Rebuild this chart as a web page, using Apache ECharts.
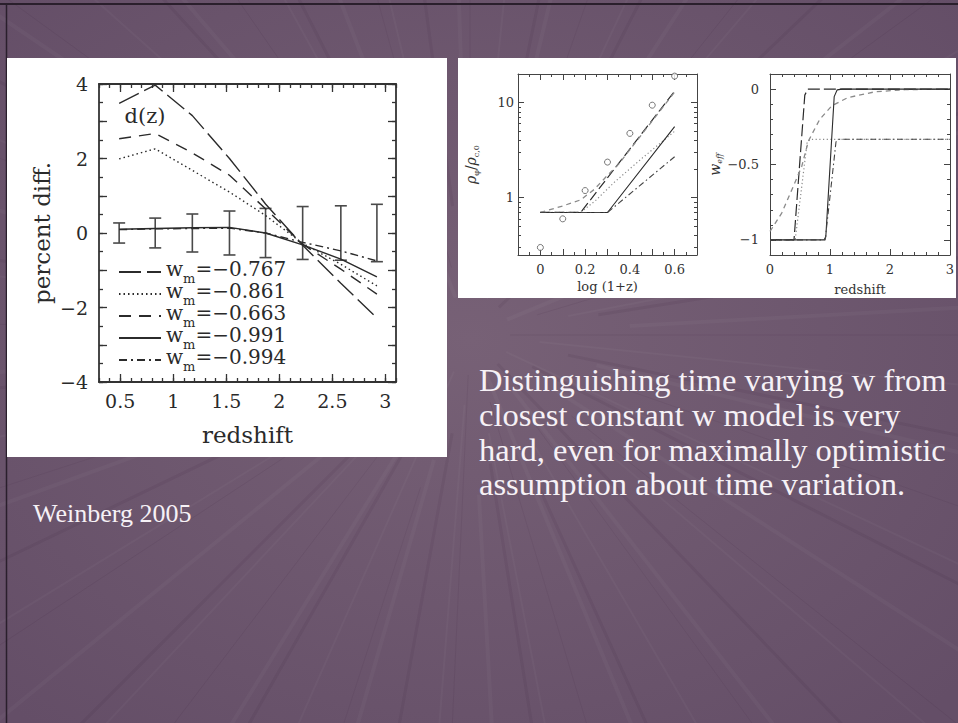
<!DOCTYPE html>
<html>
<head>
<meta charset="utf-8">
<title>Weinberg 2005 — time varying w</title>
<script src="https://cdn.jsdelivr.net/npm/echarts@6/dist/echarts.min.js"></script>
<style>
  html, body { margin: 0; padding: 0; background: #69536b; }
  #main { width: 958px; height: 723px; }
</style>
</head>
<body>
<div id="main"></div>
<script>
// ---------- Panel A: percent difference of d(z) against redshift ----------
const zBins   = [0.49, 0.83, 1.18, 1.53, 1.87, 2.22, 2.58, 2.92];
const errHalf = [0.27, 0.40, 0.51, 0.59, 0.66, 0.71, 0.73, 0.77];
const dzW767  = [3.48, 3.97, 3.15, 2.00, 0.78, -0.33, -1.35, -2.28];
const dzW861  = [1.99, 2.26, 1.68, 1.10, 0.47, -0.28, -0.84, -1.42];
const dzW663  = [2.53, 2.67, 2.15, 1.55, 0.65, -0.30, -0.97, -1.64];
const dzW991  = [0.10, 0.12, 0.14, 0.15, 0.00, -0.32, -0.70, -1.18];
const dzW994  = [0.09, 0.11, 0.12, 0.13, 0.00, -0.25, -0.48, -0.75];
const wmLabels = ['−0.767', '−0.861', '−0.663', '−0.991', '−0.994'];
const aXLabels = [0.5, 1, 1.5, 2, 2.5, 3];
const aYLabels = [-4, -2, 0, 2, 4];

// ---------- Panel B: rho_phi / rho_c,0 against log(1+z) ----------
const logZPts   = [0, 0.1, 0.2, 0.3, 0.4, 0.5, 0.6];
const rhoPts    = [0.30, 0.60, 1.19, 2.37, 4.75, 9.4, 19.0];
const bLongX    = [0, 0.18, 0.60];
const bLongY    = [0.70, 0.70, 13.2];
const bShortX   = [0, 0.10, 0.18, 0.24, 0.30, 0.35, 0.60];
const bShortY   = [0.70, 0.82, 0.95, 1.22, 1.72, 2.26, 12.9];
const bDotX     = [0, 0.18, 0.25, 0.33, 0.45, 0.60];
const bDotY     = [0.70, 0.70, 0.95, 1.45, 2.55, 5.0];
const bSolidX   = [0, 0.30, 0.60];
const bSolidY   = [0.70, 0.70, 5.6];
const bDashDotX = [0, 0.30, 0.60];
const bDashDotY = [0.70, 0.70, 2.7];
const bXLabels  = [0, 0.2, 0.4, 0.6];
const bYLabels  = [1, 10];

// ---------- Panel C: w_eff against redshift ----------
const cLongX    = [0, 0.40, 0.58, 0.63, 3];
const cLongY    = [-1, -1, -0.04, 0, 0];
const cShortX   = [0, 0.195, 0.39, 0.53, 0.64, 0.83, 1.03, 1.30, 1.75, 2.25, 3];
const cShortY   = [-0.944, -0.822, -0.644, -0.511, -0.344, -0.20, -0.111, -0.056, -0.018, -0.004, 0];
const cDotX     = [0, 0.42, 0.62, 0.68, 3];
const cDotY     = [-1, -1, -0.35, -0.333, -0.333];
const cSolidX   = [0, 0.90, 0.93, 1.07, 1.12, 1.20, 3];
const cSolidY   = [-1, -1, -0.98, -0.05, -0.005, 0, 0];
const cDashDotX = [0, 0.92, 1.10, 1.15, 3];
const cDashDotY = [-1, -1, -0.35, -0.333, -0.333];
const cXLabels  = [0, 1, 2, 3];
const cYLabels  = [-1, -0.5, 0];

// ---------- helpers ----------
const SERIF = 'DejaVu Serif';
const TIMES = '"Liberation Serif", "Times New Roman", Times, serif';
const pairs = (xs, ys) => xs.map((x, i) => [x, ys[i]]);
const steps = (a, b, d) => {
  const out = [];
  const n = Math.round((b - a) / d);
  for (let i = 0; i <= n; i++) out.push(+(a + i * d).toFixed(6));
  return out;
};
const minusFmt = v => String(v).replace('-', '−');

// Four-sided framed axes: a major-tick axis and a minor-tick axis on each side.
function boxAxes(gridIndex, dim, o) {
  const sides = dim === 'x' ? ['bottom', 'top'] : ['left', 'right'];
  const out = [];
  sides.forEach((side, k) => {
    const common = {
      gridIndex, type: o.type || 'value', position: side,
      min: o.min, max: o.max, splitLine: { show: false }, silent: true
    };
    if (o.type === 'log') common.logBase = 10;
    const main = Object.assign({}, common, {
      axisLine: { show: true, onZero: false, lineStyle: { color: o.frame, width: o.frameWidth } },
      axisTick: { show: true, inside: true, length: o.majorLen, customValues: o.majors,
                  lineStyle: { color: o.frame, width: o.tickWidth } },
      axisLabel: k === 0
        ? Object.assign({ show: true, customValues: o.labels, formatter: minusFmt }, o.labelStyle)
        : { show: false }
    });
    if (k === 0 && o.name) Object.assign(main, o.name);
    out.push(main);
    out.push(Object.assign({}, common, {
      axisLine: { show: false, onZero: false },
      axisTick: { show: true, inside: true, length: o.minorLen, customValues: o.minors,
                  lineStyle: { color: o.frame, width: o.tickWidth } },
      axisLabel: { show: false }
    }));
  });
  return out;
}

const lineSeries = (name, data, grid, color, width, dash, z) => ({
  type: 'line', name, data, xAxisIndex: grid * 4, yAxisIndex: grid * 4,
  symbol: 'none', showSymbol: false, silent: true, animation: false, z: z || 3,
  itemStyle: { color: 'rgba(0,0,0,0)', borderColor: 'rgba(0,0,0,0)' },
  lineStyle: { color, width, type: dash || 'solid' }
});

// ---------- axes ----------
const labA = { fontFamily: SERIF, fontSize: 19, color: '#2a2a2a' };
const labBC = { fontFamily: SERIF, fontSize: 13, color: '#333' };

const xAxes = [].concat(
  boxAxes(0, 'x', {
    min: 0.3, max: 3.1, majors: aXLabels, minors: steps(0.3, 3.1, 0.1), labels: aXLabels,
    frame: '#333', frameWidth: 1.8, tickWidth: 1.3, majorLen: 8, minorLen: 4,
    labelStyle: Object.assign({ margin: 9 }, labA),
    name: { name: 'redshift', nameLocation: 'middle', nameGap: 41,
            nameTextStyle: { fontFamily: SERIF, fontSize: 23, color: '#2a2a2a' } }
  }),
  boxAxes(1, 'x', {
    min: -0.1, max: 0.7, majors: steps(-0.1, 0.7, 0.1), minors: steps(-0.1, 0.7, 0.05), labels: bXLabels,
    frame: '#444', frameWidth: 1, tickWidth: 1, majorLen: 6, minorLen: 3,
    labelStyle: Object.assign({ margin: 8 }, labBC),
    name: { name: 'log (1+z)', nameLocation: 'middle', nameGap: 25,
            nameTextStyle: { fontFamily: SERIF, fontSize: 13, color: '#333' } }
  }),
  boxAxes(2, 'x', {
    min: 0, max: 3, majors: cXLabels, minors: steps(0, 3, 0.2), labels: cXLabels,
    frame: '#444', frameWidth: 1, tickWidth: 1, majorLen: 6, minorLen: 3,
    labelStyle: Object.assign({ margin: 8 }, labBC),
    name: { name: 'redshift', nameLocation: 'middle', nameGap: 28,
            nameTextStyle: { fontFamily: SERIF, fontSize: 13, color: '#333' } }
  })
);

const yAxes = [].concat(
  boxAxes(0, 'y', {
    min: -4, max: 4, majors: steps(-4, 4, 1), minors: steps(-4, 4, 0.5), labels: aYLabels,
    frame: '#333', frameWidth: 1.8, tickWidth: 1.3, majorLen: 8, minorLen: 4,
    labelStyle: Object.assign({ margin: 11 }, labA),
    name: { name: 'percent diff.', nameLocation: 'middle', nameGap: 46, nameRotate: 90,
            nameTextStyle: { fontFamily: SERIF, fontSize: 23, color: '#2a2a2a' } }
  }),
  boxAxes(1, 'y', {
    type: 'log', min: 0.25, max: 20, majors: bYLabels,
    minors: [0.3, 0.4, 0.5, 0.6, 0.7, 0.8, 0.9, 2, 3, 4, 5, 6, 7, 8, 9, 20], labels: bYLabels,
    frame: '#444', frameWidth: 1, tickWidth: 1, majorLen: 6, minorLen: 3,
    labelStyle: Object.assign({ margin: 4 }, labBC),
    name: { name: '{r|ρ}{s|φ}{d|/}{r|ρ}{s|c,0}', nameLocation: 'middle', nameGap: 38, nameRotate: 90,
            nameTextStyle: { fontFamily: SERIF, color: '#333', rich: {
              r: { fontFamily: SERIF, fontSize: 14, fontStyle: 'italic', color: '#333', lineHeight: 18, verticalAlign: 'middle' },
              s: { fontFamily: SERIF, fontSize: 8, color: '#333', lineHeight: 18, verticalAlign: 'bottom' },
              d: { fontFamily: SERIF, fontSize: 14, color: '#333', lineHeight: 18, verticalAlign: 'middle' } } } }
  }),
  boxAxes(2, 'y', {
    min: -1.1, max: 0.1, majors: cYLabels, minors: steps(-1.1, 0.1, 0.1), labels: cYLabels,
    frame: '#444', frameWidth: 1, tickWidth: 1, majorLen: 6, minorLen: 3,
    labelStyle: Object.assign({ margin: 11 }, labBC),
    name: { name: '{w|w}{s|eff}', nameLocation: 'middle', nameGap: 46, nameRotate: 90,
            nameTextStyle: { fontFamily: SERIF, color: '#333', rich: {
              w: { fontFamily: SERIF, fontSize: 14, fontStyle: 'italic', color: '#333', lineHeight: 18, verticalAlign: 'middle' },
              s: { fontFamily: SERIF, fontSize: 8, fontStyle: 'italic', color: '#333', lineHeight: 18, verticalAlign: 'bottom' } } } }
  })
);

// ---------- series ----------
const DARK = '#2b2b2b';
const GREY = '#8a8a8a';
const wmNames = wmLabels.slice();

const series = [
  {
    type: 'custom', name: 'errors', xAxisIndex: 0, yAxisIndex: 0, silent: true, z: 2,
    data: zBins.map((z, i) => [z, -errHalf[i], errHalf[i]]),
    renderItem: (params, api) => {
      const lo = api.coord([api.value(0), api.value(1)]);
      const hi = api.coord([api.value(0), api.value(2)]);
      const cap = 6;
      const st = { stroke: '#4a4a4a', lineWidth: 1.6 };
      return { type: 'group', children: [
        { type: 'line', shape: { x1: lo[0], y1: lo[1], x2: hi[0], y2: hi[1] }, style: st },
        { type: 'line', shape: { x1: lo[0] - cap, y1: lo[1], x2: lo[0] + cap, y2: lo[1] }, style: st },
        { type: 'line', shape: { x1: hi[0] - cap, y1: hi[1], x2: hi[0] + cap, y2: hi[1] }, style: st }
      ] };
    }
  },
  lineSeries(wmNames[0], pairs(zBins, dzW767), 0, DARK, 1.4, [22, 6]),
  lineSeries(wmNames[1], pairs(zBins, dzW861), 0, DARK, 1.4, [1.5, 3]),
  lineSeries(wmNames[2], pairs(zBins, dzW663), 0, DARK, 1.4, [12, 8]),
  lineSeries(wmNames[3], pairs(zBins, dzW991), 0, DARK, 1.4, 'solid'),
  lineSeries(wmNames[4], pairs(zBins, dzW994), 0, DARK, 1.4, [8, 4, 2, 4]),

  lineSeries('b-long', pairs(bLongX, bLongY), 1, DARK, 1.2, [10, 4]),
  lineSeries('b-short', pairs(bShortX, bShortY), 1, GREY, 1.3, [5, 4]),
  lineSeries('b-dot', pairs(bDotX, bDotY), 1, GREY, 1.2, [1.2, 2.5]),
  lineSeries('b-solid', pairs(bSolidX, bSolidY), 1, DARK, 1.1, 'solid'),
  lineSeries('b-dashdot', pairs(bDashDotX, bDashDotY), 1, '#444', 1.1, [6, 3, 1.5, 3]),
  {
    type: 'scatter', name: 'b-points', xAxisIndex: 4, yAxisIndex: 4, silent: true, z: 4,
    data: pairs(logZPts, rhoPts), symbol: 'circle', symbolSize: 6,
    itemStyle: { color: '#fff', borderColor: '#555', borderWidth: 1 }
  },

  lineSeries('c-long', pairs(cLongX, cLongY), 2, DARK, 1.2, [12, 4]),
  lineSeries('c-short', pairs(cShortX, cShortY), 2, GREY, 1.3, [5, 4]),
  lineSeries('c-dot', pairs(cDotX, cDotY), 2, GREY, 1.2, [1.2, 2.5]),
  lineSeries('c-solid', pairs(cSolidX, cSolidY), 2, DARK, 1.1, 'solid'),
  lineSeries('c-dashdot', pairs(cDashDotX, cDashDotY), 2, '#444', 1.1, [6, 3, 1.5, 3])
];

// ---------- slide backdrop: faint radiating streaks ----------
const rays = [];
for (let i = 0; i < 80; i++) {
  const ang = (i * 4.5 + (i % 3) * 1.3) * Math.PI / 180;
  const r0 = 40 + (i % 5) * 30;
  const cx = 470, cy = 335;
  rays.push({
    type: 'line', silent: true, z: -100,
    shape: { x1: cx + Math.cos(ang) * r0, y1: cy + Math.sin(ang) * r0,
             x2: cx + Math.cos(ang) * 900, y2: cy + Math.sin(ang) * 900 },
    style: { stroke: i % 2 ? 'rgba(255,255,255,0.03)' : 'rgba(40,20,45,0.07)', lineWidth: 1 + (i % 4) }
  });
}

const slideText = (text, x, y, size) => ({
  type: 'text', silent: true, z: 10, x, y,
  style: { text, font: size + 'px ' + TIMES, fill: '#f6f1f6', verticalAlign: 'middle' }
});

const graphics = [
  { type: 'rect', silent: true, z: -110, shape: { x: 0, y: 0, width: 958, height: 723 },
    style: { fill: { type: 'radial', x: 0.49, y: 0.47, r: 0.7,
      colorStops: [{ offset: 0, color: '#776176' }, { offset: 1, color: '#644e67' }] } } },
  { type: 'group', silent: true, z: -100, children: rays },
  { type: 'line', silent: true, z: -90, shape: { x1: 0, y1: 4, x2: 958, y2: 4 },
    style: { stroke: '#2a1f2c', lineWidth: 2 } },
  { type: 'line', silent: true, z: -90, shape: { x1: 6.5, y1: 4, x2: 6.5, y2: 723 },
    style: { stroke: '#2a1f2c', lineWidth: 1.5 } },
  { type: 'rect', silent: true, z: -80, shape: { x: 7, y: 58, width: 440, height: 399 }, style: { fill: '#ffffff' } },
  { type: 'rect', silent: true, z: -80, shape: { x: 458, y: 58, width: 498, height: 240 }, style: { fill: '#ffffff' } },
  { type: 'text', silent: true, z: 10, x: 145, y: 116,
    style: { text: 'd(z)', fontFamily: SERIF, fontSize: 21, fill: '#2a2a2a', align: 'center', verticalAlign: 'middle' } },
  slideText('Distinguishing time varying w from', 479, 380, 32.5),
  slideText('closest constant w model is very', 479, 415, 32.5),
  slideText('hard, even for maximally optimistic', 479, 450, 32.5),
  slideText('assumption about time variation.', 479, 484, 32.5),
  slideText('Weinberg 2005', 33, 513, 26)
];

const chart = echarts.init(document.getElementById('main'), null, { renderer: 'svg' });
chart.setOption({
  animation: false,
  backgroundColor: 'transparent',
  grid: [
    { left: 99, top: 84, width: 297, height: 298 },
    { left: 518, top: 74, width: 179, height: 181 },
    { left: 770, top: 74, width: 180, height: 181 }
  ],
  xAxis: xAxes,
  yAxis: yAxes,
  legend: {
    data: wmNames, orient: 'vertical', left: 113, top: 254,
    itemWidth: 42, itemHeight: 12, itemGap: -4, selectedMode: false,
    itemStyle: { color: 'rgba(0,0,0,0)', borderColor: 'rgba(0,0,0,0)', borderWidth: 0 },
    formatter: name => '{w|w}{m|m}{v|=' + name + '}',
    textStyle: { fontFamily: SERIF, fontSize: 20, color: '#2a2a2a', rich: {
      w: { fontFamily: SERIF, fontSize: 20, color: '#2a2a2a', lineHeight: 26, verticalAlign: 'top' },
      m: { fontFamily: SERIF, fontSize: 13, color: '#2a2a2a', lineHeight: 26, verticalAlign: 'bottom' },
      v: { fontFamily: SERIF, fontSize: 20, color: '#2a2a2a', lineHeight: 26, verticalAlign: 'top' }
    } }
  },
  series,
  graphic: graphics
});
</script>
</body>
</html>
